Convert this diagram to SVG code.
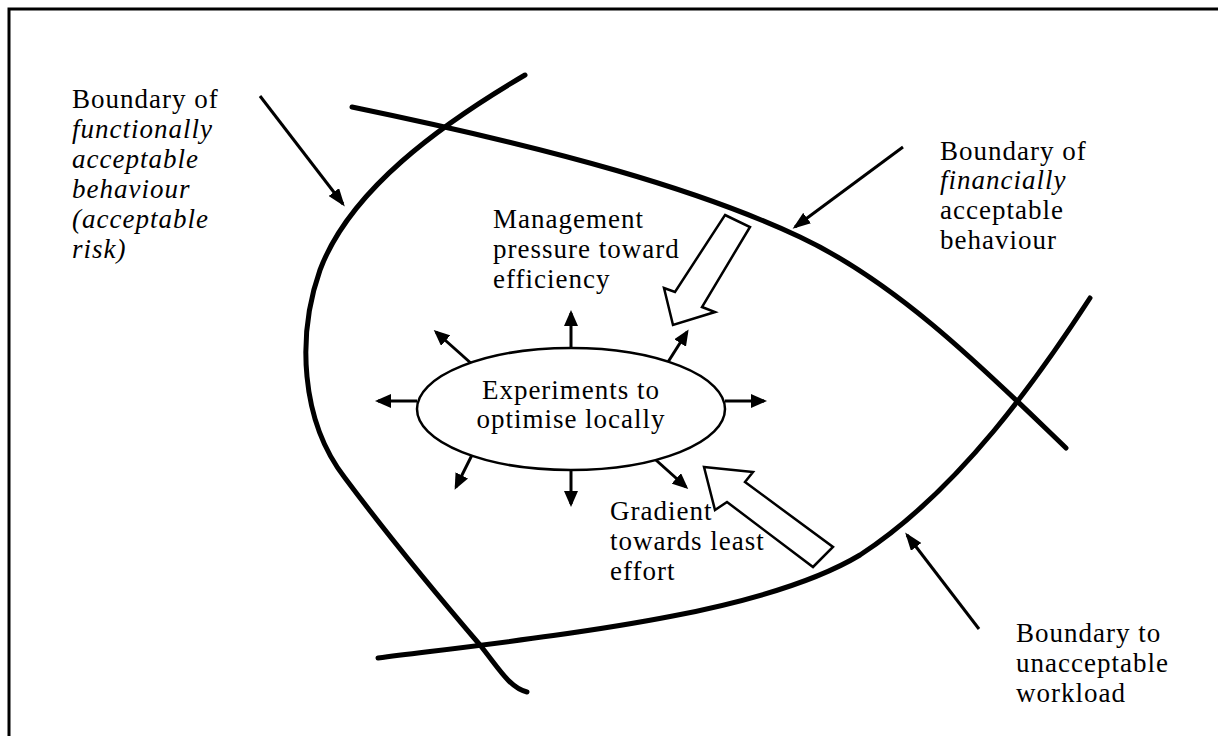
<svg xmlns="http://www.w3.org/2000/svg" width="1218" height="736" viewBox="0 0 1218 736">
<style>
  text { font-family: "Liberation Serif", "Times New Roman", serif; font-size: 27px; letter-spacing: 1px; fill: #000; }
  .it { font-style: italic; }
  .boundary { fill: none; stroke: #000; stroke-width: 5; stroke-linecap: round; }
  .thin { fill: none; stroke: #000; stroke-width: 3; }
  .block { fill: #fff; stroke: #000; stroke-width: 2.5; stroke-linejoin: miter; }
</style>
<defs>
  <marker id="ah" viewBox="0 0 16 14" refX="13" refY="7" markerWidth="16" markerHeight="14" markerUnits="userSpaceOnUse" orient="auto">
    <path d="M0,0 L16,7 L0,14 z" fill="#000"/>
  </marker>
  <marker id="ah2" viewBox="0 0 18 13" refX="15" refY="6.5" markerWidth="18" markerHeight="13" markerUnits="userSpaceOnUse" orient="auto">
    <path d="M0,0 L18,6.5 L0,13 z" fill="#000"/>
  </marker>
</defs>
<rect x="0" y="0" width="1218" height="736" fill="#fff"/>
<g id="frame">
  <path d="M9,736 L9,9 L1218,9" fill="none" stroke="#000" stroke-width="3"/>
</g>
<g id="boundaries">
  <path id="functional-boundary" class="boundary" d="M525,75 C440,125 350,190 320,270 C297,335 300,420 345,478 C395,545 450,610 480,645 C500,670 510,688 527,692"/>
  <path id="financial-boundary" class="boundary" d="M352,107 C560,150 700,190 800,237 S990,375 1066,448"/>
  <path id="workload-boundary" class="boundary" d="M1090,298 C1040,375 960,490 860,555 C760,615 560,635 378,658"/>
</g>
<g id="connectors">
  <line class="thin" x1="260" y1="96" x2="343" y2="204" marker-end="url(#ah2)"/>
  <line class="thin" x1="903" y1="147" x2="795" y2="227" marker-end="url(#ah2)"/>
  <line class="thin" x1="979" y1="629" x2="907" y2="535" marker-end="url(#ah2)"/>
  <line class="thin" x1="571" y1="349" x2="571" y2="313" marker-end="url(#ah)"/>
  <line class="thin" x1="571" y1="470" x2="571" y2="504" marker-end="url(#ah)"/>
  <line class="thin" x1="417" y1="401" x2="378" y2="401" marker-end="url(#ah)"/>
  <line class="thin" x1="725" y1="401" x2="764" y2="401" marker-end="url(#ah)"/>
  <line class="thin" x1="473" y1="365" x2="436" y2="332" marker-end="url(#ah)"/>
  <line class="thin" x1="668" y1="362" x2="687" y2="332" marker-end="url(#ah)"/>
  <line class="thin" x1="473" y1="453" x2="456" y2="487" marker-end="url(#ah)"/>
  <line class="thin" x1="647" y1="452" x2="686" y2="487" marker-end="url(#ah)"/>
</g>
<g id="management-arrow">
  <polygon class="block" points="725,215 750,227 702,307 715,312 673,325 664,288 675,292"/>
</g>
<g id="gradient-arrow">
  <polygon class="block" points="704,467 753,472 745,482 833,547 813,567 727,502 715,510"/>
</g>
<g id="experiments">
  <ellipse cx="571" cy="409" rx="154" ry="61" fill="#fff" stroke="#000" stroke-width="2.5"/>
  <text x="571" y="399" text-anchor="middle">Experiments to</text>
  <text x="571" y="428" text-anchor="middle">optimise locally</text>
</g>
<g id="label-functional">
  <text x="72" y="108">Boundary of</text>
  <text x="72" y="138" class="it">functionally</text>
  <text x="72" y="168" class="it">acceptable</text>
  <text x="72" y="198" class="it">behaviour</text>
  <text x="72" y="228" class="it">(acceptable</text>
  <text x="72" y="258" class="it">risk)</text>
</g>
<g id="label-financial">
  <text x="940" y="160">Boundary of</text>
  <text x="940" y="189" class="it">financially</text>
  <text x="940" y="219">acceptable</text>
  <text x="940" y="249">behaviour</text>
</g>
<g id="label-management">
  <text x="493" y="228">Management</text>
  <text x="493" y="258">pressure toward</text>
  <text x="493" y="288">efficiency</text>
</g>
<g id="label-gradient">
  <text x="610" y="520">Gradient</text>
  <text x="610" y="550">towards least</text>
  <text x="610" y="580">effort</text>
</g>
<g id="label-workload">
  <text x="1016" y="642">Boundary to</text>
  <text x="1016" y="672">unacceptable</text>
  <text x="1016" y="702">workload</text>
</g>
</svg>
